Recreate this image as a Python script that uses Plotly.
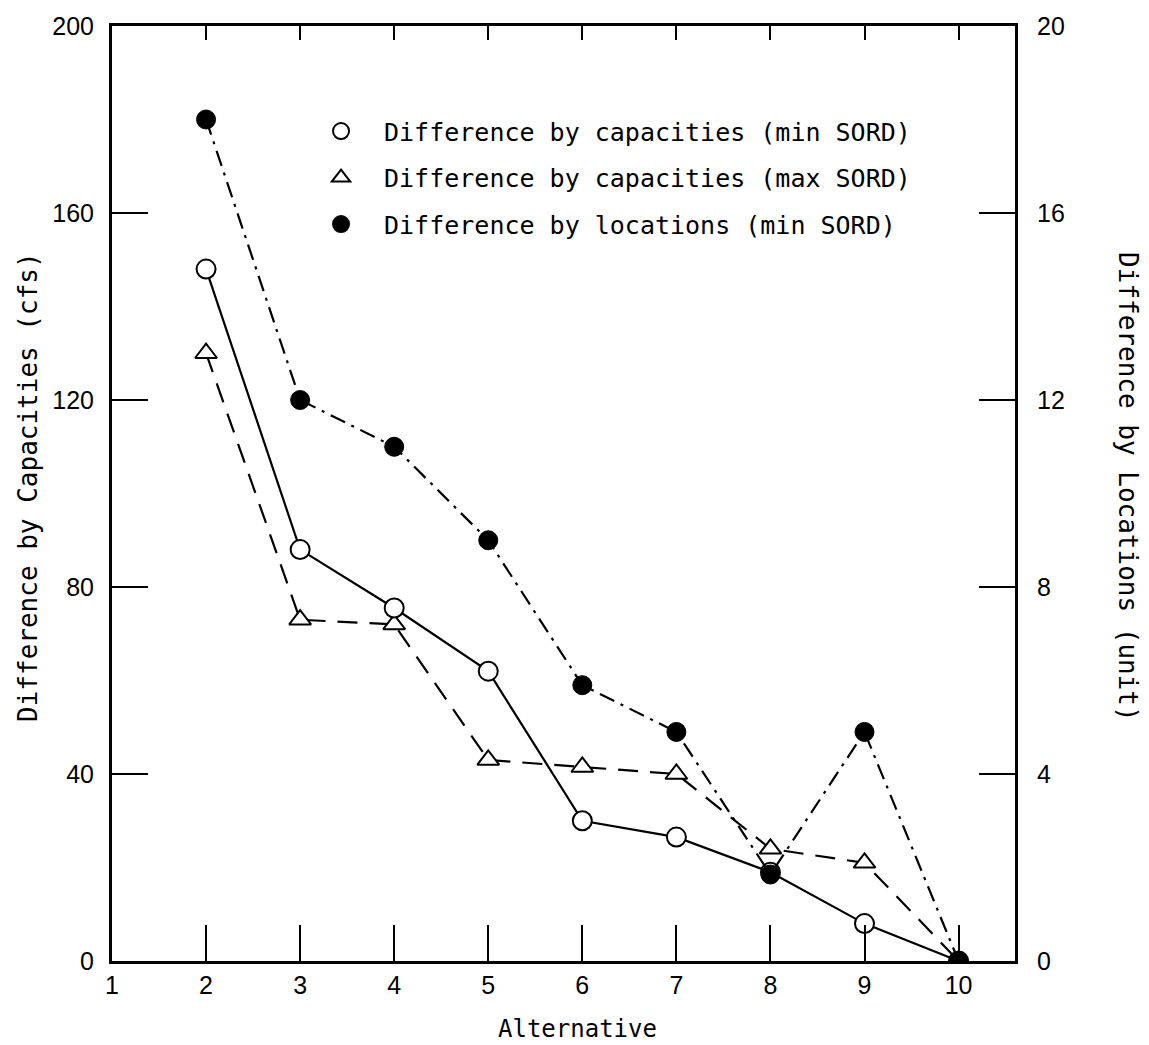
import plotly.graph_objects as go

alternatives = [2, 3, 4, 5, 6, 7, 8, 9, 10]
cap_min_sord = [148, 88, 75.5, 62, 30, 26.5, 19, 8, 0]
cap_max_sord = [130, 73, 72, 43, 41.5, 40, 24, 21, 0]
loc_min_sord = [18, 12, 11, 9, 5.9, 4.9, 1.85, 4.9, 0]

x_ticks = [1, 2, 3, 4, 5, 6, 7, 8, 9, 10]
y_left_ticks = [0, 40, 80, 120, 160, 200]
y_right_ticks = [0, 4, 8, 12, 16, 20]

legend_names = [
    "Difference by capacities (min SORD)",
    "Difference by capacities (max SORD)",
    "Difference by locations (min SORD)",
]

MONO = "DejaVu Sans Mono"
SANS = "Liberation Sans"

fig = go.Figure()

fig.add_trace(go.Scatter(
    x=alternatives, y=cap_max_sord, mode="lines+markers",
    line=dict(color="black", width=2.2, dash="20px,12px"),
    marker=dict(symbol="triangle-up", size=19, color="white",
                line=dict(color="black", width=2)),
    showlegend=False, xaxis="x", yaxis="y"))

fig.add_trace(go.Scatter(
    x=alternatives, y=cap_min_sord, mode="lines+markers",
    line=dict(color="black", width=2.2),
    marker=dict(symbol="circle", size=19, color="white",
                line=dict(color="black", width=2)),
    showlegend=False, xaxis="x", yaxis="y"))

fig.add_trace(go.Scatter(
    x=alternatives, y=loc_min_sord, mode="lines+markers",
    line=dict(color="black", width=2.2, dash="16px,7px,3px,7px"),
    marker=dict(symbol="circle", size=19, color="black",
                line=dict(color="black", width=1)),
    showlegend=False, xaxis="x", yaxis="y2"))

# legend-only entries (markers only)
legend_symbols = [("circle", "white"), ("triangle-up", "white"), ("circle", "black")]
for i, (name, (sym, fill)) in enumerate(zip(legend_names, legend_symbols)):
    fig.add_trace(go.Scatter(
        x=[None], y=[None], mode="markers", name=name,
        legendgroup=f"g{i}",
        marker=dict(symbol=sym, size=18, color=fill,
                    line=dict(color="black", width=2)),
        showlegend=True, xaxis="x", yaxis="y"))

# secondary x axis just for short top ticks
fig.add_trace(go.Scatter(x=[None], y=[None], xaxis="x2", yaxis="y",
                         showlegend=False, hoverinfo="skip"))

fig.update_layout(
    width=1149, height=1045,
    margin=dict(l=112, r=134, t=19, b=84),
    plot_bgcolor="white", paper_bgcolor="white",
    font=dict(family=SANS, color="black", size=22),
    xaxis=dict(
        range=[1, 10.6], tickvals=x_ticks, ticktext=[str(v) for v in x_ticks],
        ticks="inside", ticklen=36, tickwidth=2, tickcolor="black",
        showline=True, linecolor="black", linewidth=3,
        showgrid=False, zeroline=False,
        tickfont=dict(family=SANS, size=25), ticklabelstandoff=0,
    ),
    xaxis2=dict(
        range=[1, 10.6], overlaying="x", side="top", tickvals=x_ticks,
        showticklabels=False, ticks="inside", ticklen=14, tickwidth=2,
        tickcolor="black", showline=True, linecolor="black", linewidth=3,
        showgrid=False, zeroline=False,
    ),
    yaxis=dict(
        range=[0, 200], tickvals=y_left_ticks,
        ticktext=[str(v) for v in y_left_ticks],
        ticks="inside", ticklen=36, tickwidth=2, tickcolor="black",
        showline=True, linecolor="black", linewidth=3,
        showgrid=False, zeroline=False,
        tickfont=dict(family=SANS, size=25), ticklabelstandoff=10,
    ),
    yaxis2=dict(
        range=[0, 20], overlaying="y", side="right", tickvals=y_right_ticks,
        ticktext=[str(v) for v in y_right_ticks],
        ticks="inside", ticklen=36, tickwidth=2, tickcolor="black",
        showline=True, linecolor="black", linewidth=3,
        showgrid=False, zeroline=False,
        tickfont=dict(family=SANS, size=25), ticklabelstandoff=14,
    ),
    legend=dict(
        x=0.206, y=0.912, xanchor="left", yanchor="top",
        bgcolor="rgba(0,0,0,0)", borderwidth=0,
        font=dict(family=MONO, size=25, color="black"),
        tracegroupgap=11, itemwidth=76,
    ),
    annotations=[
        dict(text="Alternative", xref="paper", yref="paper",
             x=0.516, y=-0.073, xanchor="center", yanchor="middle",
             showarrow=False, font=dict(family=MONO, size=24)),
        dict(text="Difference by Capacities (cfs)", xref="paper", yref="paper",
             x=-0.093, y=0.507, xanchor="center", yanchor="middle", textangle=-90,
             showarrow=False, font=dict(family=MONO, size=26)),
        dict(text="Difference by Locations (unit)", xref="paper", yref="paper",
             x=1.125, y=0.507, xanchor="center", yanchor="middle", textangle=90,
             showarrow=False, font=dict(family=MONO, size=26)),
    ],
)

fig.write_html("out.html")
